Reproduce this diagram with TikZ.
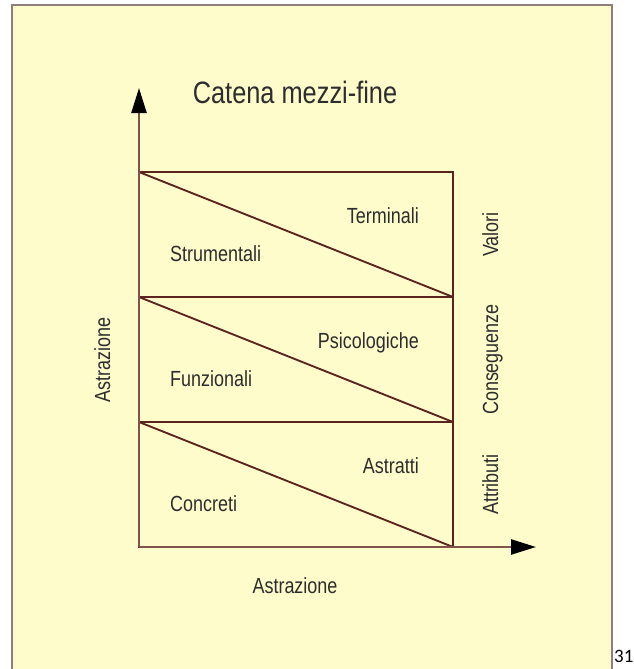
\documentclass[tikz,border=0pt]{standalone}
\usepackage{fontspec}
\usetikzlibrary{arrows.meta}
\newfontfamily\condsans[FakeStretch=0.82]{Liberation Sans}
\newfontfamily\pagenum{Carlito}
\definecolor{panelfill}{RGB}{255,252,204}
\definecolor{panelrule}{RGB}{142,126,120}
\definecolor{chainline}{RGB}{92,36,30}
\definecolor{axisline}{RGB}{128,84,74}
\definecolor{labeltext}{RGB}{45,45,45}

\begin{document}
\begin{tikzpicture}[x=0.03cm,y=-0.03cm,
  lab/.style={font=\condsans\fontsize{18.7}{20}\selectfont,text=labeltext,inner sep=0pt},
  band/.style={chainline,line width=1.6pt},
  axisarrow/.style={axisline,line width=2pt,-{Triangle[length=0.75cm,width=0.45cm,color=black]}}]
\useasboundingbox (0,0) rectangle (633,669);
\fill[white] (0,0) rectangle (633,669);
\fill[panelfill] (12,5) rectangle (612,669);
\draw[panelrule,line width=2.4pt] (12,669) -- (12,5) -- (612,5) -- (612,669);

% three bands, each split by its diagonal
\foreach \i/\yt/\hi/\lo/\side in {1/172/Terminali/Strumentali/Valori,
    2/297/Psicologiche/Funzionali/Conseguenze,
    3/422/Astratti/Concreti/Attributi} {
  \coordinate (tl\i) at (139,\yt);
  \coordinate (br\i) at (453,\yt+125);
  \draw[band] (tl\i) rectangle (br\i);
  \draw[band] (tl\i) -- (br\i);
  \node[lab,anchor=base east] (hi\i) at (419,\yt+51) {\hi};
  \node[lab,anchor=base west] (lo\i) at (170,\yt+89) {\lo};
  \node[lab,rotate=90,anchor=base] (side\i) at (498,\yt+62.5) {\side};
}

% axes
\coordinate (origin) at (139,547);
\coordinate (ytip) at (139,88);
\coordinate (xtip) at (536,547);
\draw[axisarrow] (origin) -- (ytip);
\draw[axisarrow] (origin) -- (xtip);

\node[lab,font=\condsans\fontsize{26.4}{28}\selectfont,anchor=base] (title) at (295,103) {Catena mezzi-fine};
\node[lab,rotate=90,anchor=base] (yname) at (110,360) {Astrazione};
\node[lab,anchor=base] (xname) at (295,593) {Astrazione};
\node[font=\pagenum\fontsize{16.2}{18}\selectfont,inner sep=0pt,anchor=base west] (page) at (614,662) {31};
\end{tikzpicture}
\end{document}
